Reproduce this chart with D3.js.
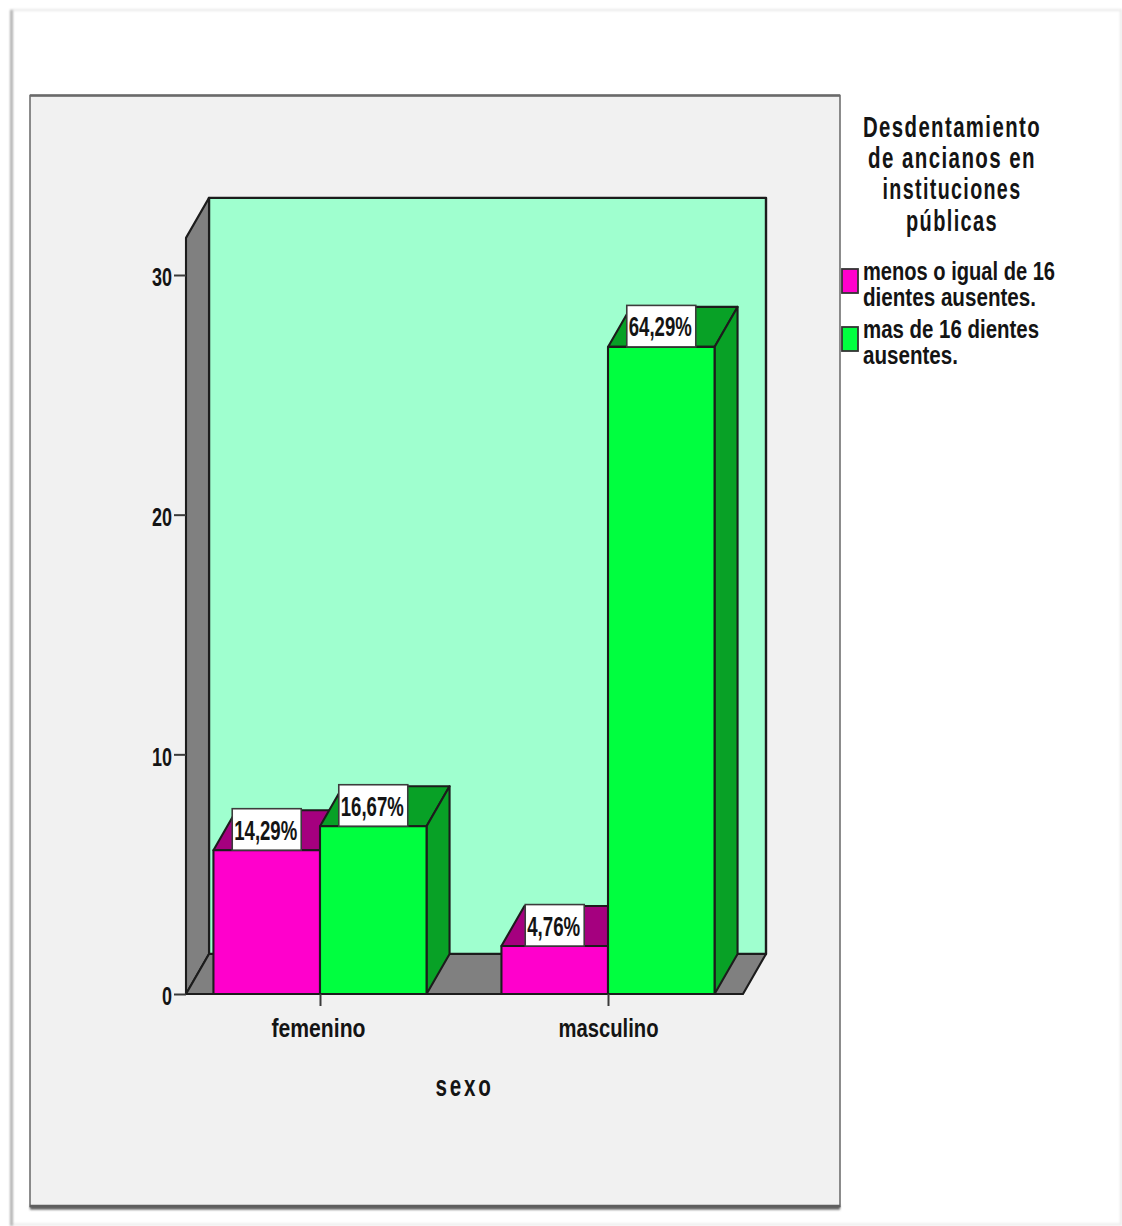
<!DOCTYPE html>
<html lang="es">
<head>
<meta charset="utf-8">
<title>Desdentamiento de ancianos en instituciones públicas</title>
<script src="https://cdn.jsdelivr.net/npm/d3@7/dist/d3.min.js"></script>
<style>
  html, body { margin: 0; padding: 0; background: #fff; }
  svg { display: block; }
  text { font-family: "Liberation Sans Narrow", "Liberation Sans", sans-serif; font-weight: 700; fill: #141414; }
</style>
</head>
<body>
<svg id="chart" width="1122" height="1226"></svg>
<script>
// Counts per sex and tooth-loss group, with their printed share of the 42 residents
const categories = ["femenino", "masculino"];
const seriesNames = ["menos o igual de 16 dientes ausentes.", "mas de 16 dientes ausentes."];
const lessOrEqualCounts = [6, 2];
const moreCounts = [7, 27];
const lessOrEqualLabels = ["14,29%", "4,76%"];
const moreLabels = ["16,67%", "64,29%"];
const yTicks = [0, 10, 20, 30];
const yAxisTop = 31.55;
const xTitle = "sexo";
const legendTitle = ["Desdentamiento", "de ancianos en", "instituciones", "públicas"];
const legendLines = [["menos o igual de 16", "dientes ausentes."], ["mas de 16 dientes", "ausentes."]];

const svg = d3.select("#chart");
const defs = svg.append("defs");

const soft = defs.append("filter").attr("id", "soft")
  .attr("filterUnits", "userSpaceOnUse").attr("x", 0).attr("y", 0).attr("width", 1122).attr("height", 1226);
soft.append("feGaussianBlur").attr("stdDeviation", 1.2);

// Sheet edge and chart panel
const frame = svg.append("g");
frame.append("path").attr("d", "M1121,1224.5H11.5V10H1121Z")
  .attr("fill", "none").attr("stroke", "#eaeaea").attr("stroke-width", 2).attr("filter", "url(#soft)");
frame.append("path").attr("d", "M11.5,1226V10")
  .attr("fill", "none").attr("stroke", "#a8a8a8").attr("stroke-width", 2.4).attr("filter", "url(#soft)");
frame.append("path").attr("d", "M30,1207.5H840").attr("stroke", "#555").attr("stroke-width", 4)
  .attr("fill", "none").attr("filter", "url(#soft)");
frame.append("rect").attr("x", 30).attr("y", 95.5).attr("width", 810).attr("height", 1111)
  .attr("fill", "#f1f1f1").attr("stroke", "#707070").attr("stroke-width", 1.6);
frame.append("path").attr("d", "M30,95.5H840").attr("stroke", "#6a6a6a").attr("stroke-width", 2.4);
frame.append("path").attr("d", "M30,1206H840").attr("stroke", "#5e5e5e").attr("stroke-width", 2.4);

// Scales and oblique depth of the 3D box
const depthX = 23, depthY = -40;
const y = d3.scaleLinear().domain([0, 30]).range([994, 275]);
const x = d3.scaleBand().domain(categories).range([176, 752]).paddingInner(0.26).paddingOuter(0.13);
const xSeries = d3.scaleBand().domain(seriesNames).range([0, x.bandwidth()]);
const floorLeft = 186, floorRight = 743;

const colors = d3.scaleOrdinal().domain(seriesNames).range(["#ff00cc", "#00ff3f"]);
const topColors = d3.scaleOrdinal().domain(seriesNames).range(["#a5007f", "#08a126"]);
const line = d3.line();
const ink = "#1c1c1c";

const plot = svg.append("g");
const poly = (pts, fill, width = 2.1) => plot.append("path").attr("d", line(pts) + "Z")
  .attr("fill", fill).attr("stroke", ink).attr("stroke-width", width).attr("stroke-linejoin", "round");

// Squeezes a spaced-out heading horizontally until it spans the given width
function condensed(parent, str, cx, base, size, spacing, width) {
  const t = parent.append("text").attr("text-anchor", "middle")
    .attr("font-size", size).attr("letter-spacing", spacing).text(str);
  const natural = t.node().getComputedTextLength();
  t.attr("transform", `translate(${cx},${base}) scale(${width / natural},1)`);
  return t;
}

// Back wall, side wall and floor
poly([[floorLeft + depthX, y(yAxisTop) + depthY], [floorRight + depthX, y(yAxisTop) + depthY],
      [floorRight + depthX, y(0) + depthY], [floorLeft + depthX, y(0) + depthY]], "#9fffcf", 2.4);
poly([[floorLeft, y(yAxisTop)], [floorLeft + depthX, y(yAxisTop) + depthY],
      [floorLeft + depthX, y(0) + depthY], [floorLeft, y(0)]], "#808080");
poly([[floorLeft, y(0)], [floorLeft + depthX, y(0) + depthY],
      [floorRight + depthX, y(0) + depthY], [floorRight, y(0)]], "#808080");

// Value and category axes
const axisG = svg.append("g");
const yAxis = d3.axisLeft(y).tickValues(yTicks).tickSize(12).tickPadding(2).tickFormat(d3.format("d"));
const yG = axisG.append("g").attr("transform", `translate(${floorLeft},0)`).call(yAxis);
yG.select(".domain").remove();
yG.selectAll("line").attr("stroke", "#3a3a3a").attr("stroke-width", 2);
yG.selectAll("text").attr("font-size", 26).attr("fill", "#141414").attr("font-family", null)
  .attr("dy", "0.42em")
  .attr("textLength", d => String(d).length * 10).attr("lengthAdjust", "spacingAndGlyphs");

const xCenter = d => x(d) + x.bandwidth() / 2;
const xG = axisG.append("g").attr("transform", `translate(0,${y(0)})`)
  .call(d3.axisBottom(d3.scaleOrdinal().domain(categories).range(categories.map(xCenter)))
    .tickSize(12).tickPadding(8));
xG.select(".domain").remove();
xG.selectAll("line").attr("stroke", "#3a3a3a").attr("stroke-width", 2);
xG.selectAll("text").attr("font-size", 25).attr("fill", "#141414").attr("font-family", null)
  .attr("dy", "0.92em").attr("textLength", 94).attr("lengthAdjust", "spacingAndGlyphs").attr("dx", -2);
xG.selectAll("text").filter(d => d === "masculino").attr("textLength", 100).attr("dx", 0);

// Bars, left to right so that each one overlaps its neighbour's side face
const seriesCounts = [lessOrEqualCounts, moreCounts];
const seriesLabels = [lessOrEqualLabels, moreLabels];
const bars = [];
categories.forEach((cat, c) => seriesNames.forEach((name, s) => {
  bars.push({ cat, name, value: seriesCounts[s][c], label: seriesLabels[s][c] });
}));
bars.forEach(b => {
  const x0 = x(b.cat) + xSeries(b.name), x1 = x0 + xSeries.bandwidth();
  const yTop = y(b.value), yBase = y(0);
  poly([[x0, yTop], [x0 + depthX, yTop + depthY], [x1 + depthX, yTop + depthY], [x1, yTop]], topColors(b.name));
  poly([[x1, yTop], [x1 + depthX, yTop + depthY], [x1 + depthX, yBase + depthY], [x1, yBase]], topColors(b.name));
  poly([[x0, yTop], [x1, yTop], [x1, yBase], [x0, yBase]], colors(b.name));
  b.cx = (x0 + x1) / 2;
  b.yTop = yTop;
});

// Percentage tags resting on each bar's top edge
const tags = svg.append("g");
bars.forEach(b => {
  const w = b.label.length > 5 ? 69 : 59;
  tags.append("rect").attr("x", b.cx - w / 2).attr("y", b.yTop - 41.5).attr("width", w).attr("height", 41.5)
    .attr("fill", "#fff").attr("stroke", "#3c3c3c").attr("stroke-width", 1.6);
  tags.append("text").attr("x", b.cx - 1).attr("y", b.yTop - 10.5).attr("text-anchor", "middle")
    .attr("font-size", 27).attr("textLength", w - 6).attr("lengthAdjust", "spacingAndGlyphs").text(b.label);
});

// Category axis title
condensed(svg, xTitle, 464.5, 1096, 30, 4, 58);

// Legend
const legend = svg.append("g");
const titleWidths = [178, 168, 139, 92];
legendTitle.forEach((t, i) => condensed(legend, t, 952, 137 + i * 31.2, 29, 2, titleWidths[i]));
const swatchY = [269, 327];
const entryWidths = [[192, 173], [176, 95]];
const entryBase = [280, 338];
seriesNames.forEach((name, s) => {
  legend.append("rect").attr("x", 842).attr("y", swatchY[s]).attr("width", 16).attr("height", 24)
    .attr("fill", colors(name)).attr("stroke", "#333").attr("stroke-width", 1.8);
  legendLines[s].forEach((t, i) => {
    legend.append("text").attr("x", 863).attr("y", entryBase[s] + i * 26)
      .attr("font-size", 25).attr("textLength", entryWidths[s][i]).attr("lengthAdjust", "spacingAndGlyphs").text(t);
  });
});
</script>
</body>
</html>
